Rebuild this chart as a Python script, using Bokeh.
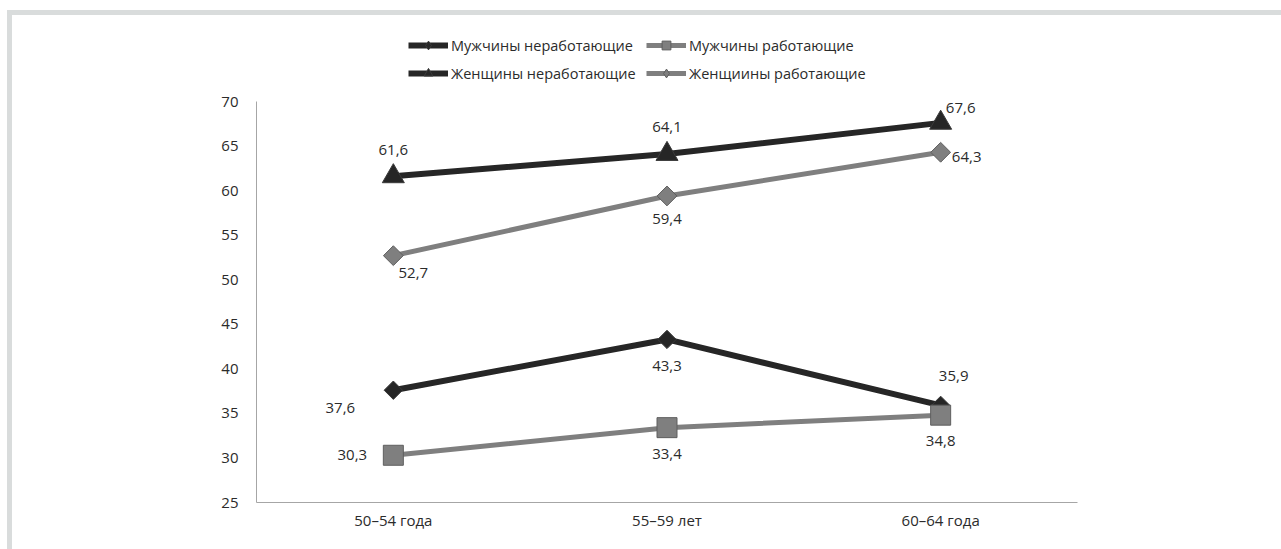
import numpy as np
from bokeh.plotting import figure
from bokeh.layouts import column
from bokeh.models import (ColumnDataSource, LabelSet, Legend, LegendItem,
                          FactorRange, Range1d, FixedTicker)
from bokeh.core.properties import value
from bokeh.embed import file_html
from bokeh.resources import INLINE

# ---- data ----
categories = ["50–54 года", "55–59 лет", "60–64 года"]
men_nonworking = [37.6, 43.3, 35.9]
men_working = [30.3, 33.4, 34.8]
women_nonworking = [61.6, 64.1, 67.6]
women_working = [52.7, 59.4, 64.3]
y_ticks = [25, 30, 35, 40, 45, 50, 55, 60, 65, 70]

FONT = "Open Sans"
DARK = "#262626"
GRAY = "#7f7f7f"
TEXT = "#2b2b2b"
FRAME_COL = "#d9dcdc"

W, H = 1281, 549
HEAD_H = 91                      # strip holding the legend
MAIN_H = H - HEAD_H
LEFT, RIGHT, TOP, BOTTOM = 256, 204, 10, 47

# ---- main chart ----
p = figure(width=W, height=MAIN_H, x_range=FactorRange(*categories, range_padding=0),
           y_range=Range1d(25, 70), output_backend="svg", toolbar_location=None,
           min_border_left=LEFT, min_border_right=RIGHT,
           min_border_top=TOP, min_border_bottom=BOTTOM)
p.background_fill_color = "white"
p.border_fill_alpha = 0
p.outline_line_color = None
p.xgrid.visible = False
p.ygrid.visible = False

for ax in (p.xaxis, p.yaxis):
    ax.axis_line_color = "#a6a6a6"
    ax.axis_line_width = 1
    ax.major_tick_line_color = None
    ax.minor_tick_line_color = None
    ax.major_tick_out = 0
    ax.major_tick_in = 0
    ax.major_label_text_font = FONT
    ax.major_label_text_font_size = "15px"
    ax.major_label_text_color = TEXT
p.yaxis.ticker = FixedTicker(ticks=y_ticks)
p.yaxis.major_label_standoff = 18
p.xaxis.major_label_standoff = 7


def fmt(vals):
    return [f"{v:.1f}".replace(".", ",") for v in vals]


# series: (name, values, colour, line width, marker, marker size, angle, legend marker, label offsets)
series = [
    ("Мужчины неработающие", men_nonworking, DARK, 6, "square", 13, np.pi / 4, "diamond",
     [(-53, -18), (0, -27), (13, 29)]),
    ("Мужчины работающие", men_working, GRAY, 5, "square", 20, 0, "square",
     [(-41, 0), (0, -26), (0, -26)]),
    ("Женщины неработающие", women_nonworking, DARK, 6, "triangle", 22, 0, "triangle",
     [(0, 26), (0, 27), (20, 15)]),
    ("Женщиины работающие", women_working, GRAY, 5, "square", 14, np.pi / 4, "diamond",
     [(20, -17), (0, -23), (26, -5)]),
]


def edge(col):
    return "#3a3a3a" if col == DARK else "#5e5e5e"


for name, vals, col, lw, marker, size, angle, key_marker, offs in series:
    src = ColumnDataSource(dict(x=categories, y=vals, txt=fmt(vals),
                                dx=[o[0] for o in offs], dy=[o[1] for o in offs]))
    p.line("x", "y", source=src, line_color=col, line_width=lw)
    p.scatter("x", "y", source=src, marker=marker, size=size, angle=angle,
              fill_color=col, line_color=edge(col), line_width=1)
    p.add_layout(LabelSet(x="x", y="y", text="txt", source=src,
                          x_offset="dx", y_offset="dy",
                          text_align="center", text_baseline="middle",
                          text_font=value(FONT), text_font_size="15px",
                          text_color=TEXT))

# ---- legend strip: the same line+marker styles, shown as legend keys ----
head = figure(width=W, height=HEAD_H, x_range=Range1d(0, 1), y_range=Range1d(0, 1),
              output_backend="svg", toolbar_location=None,
              x_axis_location=None, y_axis_location=None,
              min_border_left=LEFT, min_border_right=RIGHT,
              min_border_top=0, min_border_bottom=0)
head.background_fill_alpha = 0
head.border_fill_alpha = 0
head.outline_line_color = None
head.xgrid.visible = False
head.ygrid.visible = False

keys = {}
for name, vals, col, lw, marker, size, angle, key_marker, offs in series:
    ks = ColumnDataSource(dict(x=[5, 6], y=[5, 6]))   # outside the visible range
    ln = head.line("x", "y", source=ks, line_color=col, line_width=lw)
    mk = head.scatter("x", "y", source=ks, marker=key_marker, size=size,
                      fill_color=col, line_color=edge(col), line_width=1)
    keys[name] = [ln, mk]

LEG_PAD, LEG_ROW, LEG_SP = 5, 22, 6
LEG_H = 2 * LEG_PAD + 2 * LEG_ROW + LEG_SP
LEG_TOP = 24


def make_legend(names, x):
    lg = Legend(items=[LegendItem(label=n, renderers=keys[n]) for n in names],
                location=(x - LEFT, HEAD_H - LEG_TOP - LEG_H), orientation="vertical")
    lg.background_fill_alpha = 0
    lg.border_line_color = None
    lg.label_text_font = FONT
    lg.label_text_font_size = "14.5px"
    lg.label_text_color = TEXT
    lg.glyph_width = 40
    lg.glyph_height = LEG_ROW
    lg.label_height = LEG_ROW
    lg.spacing = LEG_SP
    lg.padding = LEG_PAD
    lg.margin = 0
    lg.label_standoff = 3
    return lg


head.add_layout(make_legend(["Мужчины неработающие", "Женщины неработающие"], 413 - LEG_PAD))
head.add_layout(make_legend(["Мужчины работающие", "Женщиины работающие"], 651 - LEG_PAD))

page = column(head, p, spacing=0)
# white page with a light grey edge along the top and left
page.styles = {
    "background-color": "white",
    "background-image": f"linear-gradient({FRAME_COL},{FRAME_COL}), "
                        f"linear-gradient({FRAME_COL},{FRAME_COL})",
    "background-size": f"{W - 7}px 5px, 5px {H - 10}px",
    "background-position": "7px 10px, 7px 10px",
    "background-repeat": "no-repeat",
}

open("out.html", "w").write(file_html(page, INLINE))
